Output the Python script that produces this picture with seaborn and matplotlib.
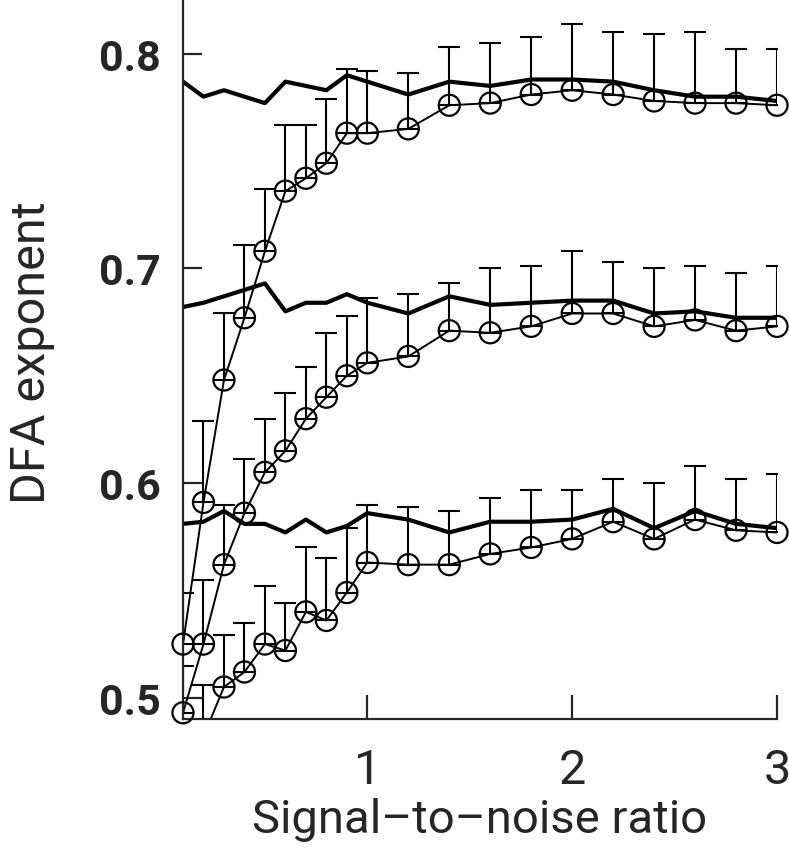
import numpy as np
import pandas as pd
import seaborn as sns
import matplotlib.pyplot as plt

# signal-to-noise ratios
snr = [0.1, 0.2, 0.3, 0.4, 0.5, 0.6, 0.7, 0.8, 0.9, 1.0,
       1.2, 1.4, 1.6, 1.8, 2.0, 2.2, 2.4, 2.6, 2.8, 3.0]

# DFA exponent of the clean signal (thick lines)
clean_08 = [0.787, 0.780, 0.783, 0.780, 0.777, 0.787, 0.785, 0.783, 0.790, 0.787,
            0.781, 0.787, 0.785, 0.788, 0.788, 0.787, 0.783, 0.780, 0.780, 0.778]
clean_07 = [0.682, 0.684, 0.687, 0.690, 0.693, 0.680, 0.684, 0.684, 0.688, 0.684,
            0.679, 0.687, 0.683, 0.684, 0.685, 0.685, 0.679, 0.680, 0.677, 0.677]
clean_06 = [0.581, 0.582, 0.587, 0.581, 0.581, 0.577, 0.583, 0.577, 0.580, 0.586,
            0.583, 0.577, 0.582, 0.582, 0.583, 0.588, 0.579, 0.587, 0.581, 0.579]

# DFA exponent with added noise (circles) and upper error
noisy_08 = [0.525, 0.591, 0.648, 0.677, 0.708, 0.736, 0.742, 0.749, 0.763, 0.763,
            0.765, 0.776, 0.777, 0.781, 0.783, 0.781, 0.778, 0.777, 0.777, 0.776]
err_08 = [0.024, 0.038, 0.031, 0.034, 0.029, 0.031, 0.025, 0.030, 0.030, 0.029,
          0.026, 0.027, 0.028, 0.027, 0.031, 0.029, 0.031, 0.033, 0.025, 0.026]
noisy_07 = [0.493, 0.525, 0.562, 0.586, 0.605, 0.615, 0.630, 0.640, 0.650, 0.656,
            0.659, 0.671, 0.670, 0.673, 0.679, 0.679, 0.673, 0.676, 0.671, 0.673]
err_07 = [0.022, 0.030, 0.028, 0.025, 0.025, 0.027, 0.024, 0.030, 0.028, 0.030,
          0.029, 0.022, 0.030, 0.028, 0.029, 0.024, 0.027, 0.025, 0.027, 0.028]
noisy_06 = [0.460, 0.482, 0.505, 0.512, 0.525, 0.522, 0.540, 0.536, 0.549, 0.563,
            0.562, 0.562, 0.567, 0.570, 0.574, 0.582, 0.574, 0.583, 0.578, 0.577]
err_06 = [0.020, 0.024, 0.024, 0.023, 0.027, 0.022, 0.030, 0.029, 0.030, 0.027,
          0.027, 0.025, 0.026, 0.027, 0.023, 0.020, 0.026, 0.025, 0.024, 0.027]

yticks = [0.5, 0.6, 0.7, 0.8]
xticks = [1, 2, 3]
ylo, yhi = 0.4901, 0.8255

sns.set_style("ticks")
plt.rcParams['font.family'] = ['Roboto', 'DejaVu Sans']

fig = plt.figure(figsize=(7.89, 8.53), dpi=100)
ax = fig.add_axes([183 / 789, 1 - 720 / 853, (777 - 183) / 789, 720 / 853])

groups = [(clean_08, noisy_08, err_08), (clean_07, noisy_07, err_07), (clean_06, noisy_06, err_06)]
for clean, noisy, err in groups:
    sns.lineplot(x=snr, y=clean, ax=ax, color="black", linewidth=3.0, sort=False)
    sns.lineplot(x=snr, y=noisy, ax=ax, color="black", linewidth=1.4, sort=False)
    ax.errorbar(snr, noisy, yerr=[np.zeros(len(err)), err], fmt="none", ecolor="black",
                elinewidth=1.5, capsize=8, capthick=1.5)
    df = pd.DataFrame({"snr": snr, "val": noisy})
    df = df[df["val"] >= ylo]
    pts = sns.scatterplot(data=df, x="snr", y="val", ax=ax, s=230, facecolor="none",
                          edgecolor="black", linewidth=1.6, zorder=4)
    pts.collections[-1].set_clip_on(False)

ax.set_xlim(0.1, 3.0)
ax.set_ylim(ylo, yhi)
ax.set_xticks(xticks)
ax.set_xticklabels([str(t) for t in xticks])
ax.set_yticks(yticks)
ax.set_yticklabels([f"{t:.1f}" for t in yticks], fontweight="bold")
sns.despine(ax=ax)
for s in ["left", "bottom"]:
    ax.spines[s].set_linewidth(1.6)
ax.tick_params(axis="y", direction="in", length=14, width=1.6, labelsize=31, pad=16)
ax.tick_params(axis="x", direction="in", length=17, width=1.6, labelsize=35, pad=20)
ax.set_xlabel("Signal\u2013to\u2013noise ratio", fontsize=34, labelpad=3)
ax.set_ylabel("DFA exponent", fontsize=35)
ax.yaxis.set_label_coords(-0.215, 0.51)

fig.savefig("out.png", dpi=100)
